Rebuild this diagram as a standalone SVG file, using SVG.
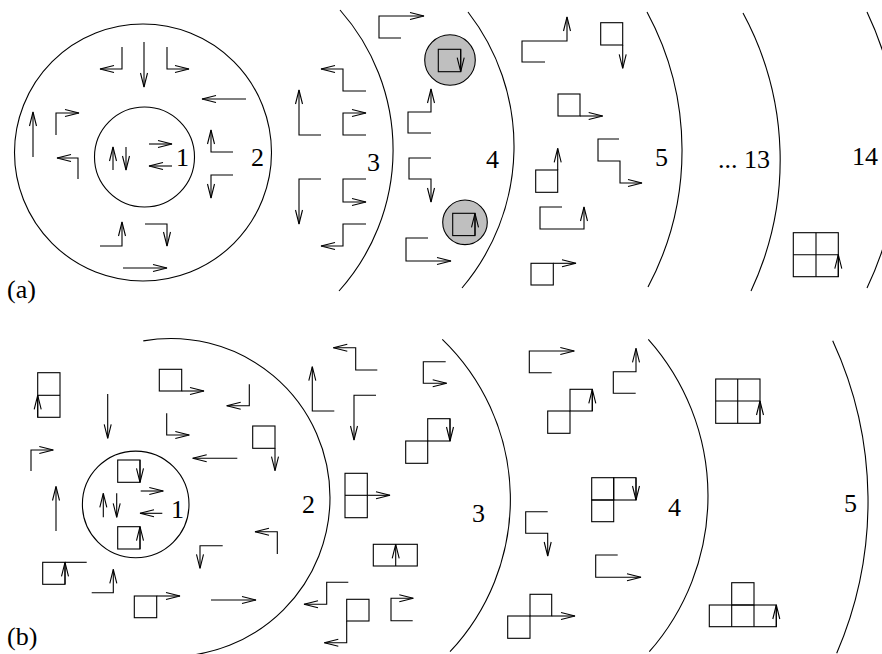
<svg xmlns="http://www.w3.org/2000/svg" width="882" height="654" viewBox="0 0 882 654">
<style>
.w{fill:none;stroke:#000;stroke-width:1.1;marker-end:url(#ah)}
.s{fill:none;stroke:#000;stroke-width:1.1}
.g{fill:#bfbfbf;stroke:#000;stroke-width:1.1}
.t{font-family:"Liberation Serif","Times New Roman",serif;font-size:26px;fill:#000}
</style>
<defs>
<marker id="ah" viewBox="-15 -5 16 10" markerWidth="16" markerHeight="10" refX="0" refY="0" orient="auto" markerUnits="userSpaceOnUse">
<path d="M-14,-3.5 L0,0 L-14,3.5" fill="none" stroke="#000" stroke-width="1.1"/>
</marker>
</defs>
<rect width="882" height="654" fill="#fff"/>

<g id="panel-a">
<g id="a-boundaries">
<circle class="s" cx="143" cy="152.5" r="128.5"/>
<circle class="s" cx="144.5" cy="157" r="50"/>
<path class="s" d="M340,10 A211,211 0 0 1 339,291"/>
<path class="s" d="M468,12 A219,219 0 0 1 462,288"/>
<path class="s" d="M647,12 A291,291 0 0 1 648,287"/>
<path class="s" d="M743,13 A309,309 0 0 1 751,291"/>
<path class="s" d="M867,12 A320,320 0 0 1 867,288"/>
</g>
<g id="a-labels">
<text class="t" x="176" y="166">1</text>
<text class="t" x="251" y="166">2</text>
<text class="t" x="367" y="171">3</text>
<text class="t" x="486" y="167.5">4</text>
<text class="t" x="655" y="166">5</text>
<text class="t" x="718" y="167.5">... 13</text>
<text class="t" x="852" y="164.5">14</text>
<text class="t" x="7" y="298">(a)</text>
</g>
<g id="a-zone1">
<polyline class="w" points="149,144 172,144"/>
<polyline class="w" points="113,170 113,147"/>
<polyline class="w" points="126,147 126,170"/>
<polyline class="w" points="172,166 149,166"/>
</g>
<g id="a-zone2">
<polyline class="w" points="122,47 122,69 100,69"/>
<polyline class="w" points="144,42 144,87"/>
<polyline class="w" points="167,47 167,69 189,69"/>
<polyline class="w" points="246,99 202,99"/>
<polyline class="w" points="56,135 56,113 79,113"/>
<polyline class="w" points="33,157 33,112"/>
<polyline class="w" points="233,152 211,152 211,130"/>
<polyline class="w" points="78,179 78,158 57,158"/>
<polyline class="w" points="233,175 211,175 211,198"/>
<polyline class="w" points="100,246 122,246 122,222"/>
<polyline class="w" points="145,224 167,224 167,246"/>
<polyline class="w" points="123,268 167,268"/>
</g>
<g id="a-zone3">
<polyline class="w" points="366,91 343,91 343,69 321,69"/>
<polyline class="w" points="321,135 299,135 299,90"/>
<polyline class="w" points="366,135 343,135 343,113 366,113"/>
<polyline class="w" points="321,179 299,179 299,224"/>
<polyline class="w" points="366,179 343,179 343,202 366,202"/>
<polyline class="w" points="366,224 343,224 343,246 321,246"/>
</g>
<g id="a-zone4">
<polyline class="w" points="401,38 379,38 379,16 424,16"/>
<circle class="g" cx="450" cy="60" r="25.3"/>
<rect class="s" x="438.3" y="49.3" width="22.4" height="22.4"/>
<polyline class="w" points="460.7,49.3 460.7,71.7"/>
<polyline class="w" points="431,133 408,133 408,112 431,112 431,89"/>
<polyline class="w" points="431,158 409,158 409,179 431,179 431,202"/>
<circle class="g" cx="465" cy="222.3" r="22.3"/>
<rect class="s" x="452.7" y="213.3" width="22.3" height="22.3"/>
<polyline class="w" points="475,235.6 475,213.3"/>
<polyline class="w" points="428,238 406,238 406,261 451,261"/>
</g>
<g id="a-zone5">
<polyline class="w" points="545,62 522,62 522,41 567,41 567,17"/>
<rect class="s" x="600.7" y="22.7" width="22" height="22.3"/>
<polyline class="w" points="622.7,45 622.7,68.3"/>
<rect class="s" x="558" y="94" width="22" height="22"/>
<polyline class="w" points="580,116 602.7,116"/>
<polyline class="w" points="619,139 598,139 598,161 620,161 620,183 642,183"/>
<rect class="s" x="535.7" y="170" width="22" height="22.3"/>
<polyline class="w" points="557.7,170 557.7,148.3"/>
<polyline class="w" points="562,207 540,207 540,229 584,229 584,207"/>
<rect class="s" x="531" y="263.3" width="22.3" height="21.7"/>
<polyline class="w" points="553.3,263.3 576,263.3"/>
</g>
<g id="a-zone14">
<rect class="s" x="793.3" y="232.7" width="45" height="44"/>
<path class="s" d="M816,232.7 V276.7 M793.3,254.7 H838.3"/>
<polyline class="w" points="838.3,276.7 838.3,254.7"/>
</g>
</g>

<g id="panel-b">
<g id="b-boundaries">
<path class="s" d="M143.3,340.9 A159,159 0 0 1 330,497.5 A159,159 0 0 1 171,656.5"/>
<circle class="s" cx="135.7" cy="504.4" r="53.3"/>
<path class="s" d="M442.3,339.3 A222.3,222.3 0 0 1 450,651.7"/>
<path class="s" d="M648.3,339.3 A235.7,235.7 0 0 1 649.3,651.7"/>
<path class="s" d="M832.7,340.7 A383.5,383.5 0 0 1 836.7,653.3"/>
</g>
<g id="b-labels">
<text class="t" x="171" y="518">1</text>
<text class="t" x="302" y="512.5">2</text>
<text class="t" x="472" y="521.5">3</text>
<text class="t" x="668" y="515.5">4</text>
<text class="t" x="844" y="511.5">5</text>
<text class="t" x="7" y="645">(b)</text>
</g>
<g id="b-zone1">
<rect class="s" x="117.7" y="460" width="22.3" height="22.3"/>
<polyline class="w" points="140,460 140,482.3"/>
<polyline class="w" points="140.7,491 163.3,491"/>
<polyline class="w" points="103.3,517.3 103.3,493.3"/>
<polyline class="w" points="116.7,493.3 116.7,517.3"/>
<polyline class="w" points="162.3,513.3 140,513.3"/>
<rect class="s" x="117.7" y="526.7" width="22.3" height="22.3"/>
<polyline class="w" points="140,549 140,526.7"/>
</g>
<g id="b-zone2">
<rect class="s" x="37.7" y="372.7" width="22.3" height="44.6"/>
<path class="s" d="M37.7,395.3 H60"/>
<polyline class="w" points="37.7,417.3 37.7,395.3"/>
<polyline class="w" points="107.7,394 107.7,438.3"/>
<rect class="s" x="159.3" y="369.3" width="22.4" height="21.7"/>
<polyline class="w" points="181.7,391 204,391"/>
<polyline class="w" points="249.3,384.3 249.3,405.7 226.7,405.7"/>
<polyline class="w" points="166.7,413.3 166.7,435 189.3,435"/>
<rect class="s" x="252.7" y="426" width="22.3" height="22.3"/>
<polyline class="w" points="275,448.3 275,470.7"/>
<polyline class="w" points="237.3,458.3 192.7,458.3"/>
<polyline class="w" points="31,471 31,450 53.3,450"/>
<polyline class="w" points="56,531 56,486.5"/>
<rect class="s" x="42.7" y="562.3" width="22.3" height="22"/>
<path class="s" d="M65,562.3 H86.7"/>
<polyline class="w" points="65,584.3 65,562.3"/>
<polyline class="w" points="91.7,592.7 113.3,592.7 113.3,569.3"/>
<rect class="s" x="134.3" y="596" width="22.4" height="21.7"/>
<polyline class="w" points="156.7,596 180,596"/>
<polyline class="w" points="211,600 256,600"/>
<polyline class="w" points="222.7,545.7 200,545.7 200,568.3"/>
<polyline class="w" points="277.3,554 277.3,531.7 255,531.7"/>
</g>
<g id="b-zone3">
<polyline class="w" points="377.3,370 355.7,370 355.7,347.7 333.3,347.7"/>
<polyline class="w" points="334.3,411 312.3,411 312.3,366.7"/>
<polyline class="w" points="445.7,361.7 423.3,361.7 423.3,383.3 446.7,383.3"/>
<polyline class="w" points="376,395.3 354,395.3 354,440"/>
<rect class="s" x="405.7" y="441" width="22" height="22.3"/>
<rect class="s" x="427.7" y="418.7" width="22.3" height="22.3"/>
<polyline class="w" points="450,418.7 450,441"/>
<rect class="s" x="345" y="473.3" width="22.3" height="44.4"/>
<path class="s" d="M345,495.3 H367.3"/>
<polyline class="w" points="367.3,495.3 390,495.3"/>
<rect class="s" x="373.3" y="544.3" width="44" height="21.7"/>
<polyline class="w" points="395.7,566 395.7,544.3"/>
<polyline class="w" points="348.3,582.3 326.7,582.3 326.7,604.3 304,604.3"/>
<rect class="s" x="346.7" y="599.3" width="22.3" height="21.7"/>
<polyline class="w" points="346.7,621 346.7,642.7 324.3,642.7"/>
<polyline class="w" points="412.7,620.7 391,620.7 391,598.3 413.3,598.3"/>
</g>
<g id="b-zone4">
<polyline class="w" points="551.7,372.7 529.3,372.7 529.3,351 574.3,351"/>
<rect class="s" x="547.7" y="411" width="22.3" height="22.3"/>
<rect class="s" x="570" y="389.3" width="22.3" height="21.7"/>
<polyline class="w" points="592.3,411 592.3,389.3"/>
<polyline class="w" points="635.7,393.3 613.3,393.3 613.3,371.7 636,371.7 636,348.3"/>
<rect class="s" x="591.7" y="477.7" width="22" height="22.3"/>
<rect class="s" x="613.7" y="477.7" width="22.3" height="22.3"/>
<rect class="s" x="591.7" y="500" width="22" height="21.7"/>
<polyline class="w" points="636,477.7 636,500"/>
<polyline class="w" points="547.7,511.7 525.7,511.7 525.7,533.3 547.7,533.3 547.7,556"/>
<polyline class="w" points="617.7,555 595.7,555 595.7,577.3 641,577.3"/>
<rect class="s" x="530" y="594.3" width="21.7" height="21.7"/>
<rect class="s" x="507.7" y="616" width="22.3" height="22.3"/>
<polyline class="w" points="551.7,616 575,616"/>
</g>
<g id="b-zone5">
<rect class="s" x="715.7" y="379" width="44.3" height="44.3"/>
<path class="s" d="M737.7,379 V423.3 M715.7,401 H760"/>
<polyline class="w" points="760,423.3 760,401"/>
<rect class="s" x="731.7" y="582.7" width="22.3" height="22.3"/>
<rect class="s" x="709.3" y="605" width="67" height="21.7"/>
<path class="s" d="M731.7,605 V626.7 M754,605 V626.7"/>
<polyline class="w" points="776.3,626.7 776.3,605"/>
</g>
</g>
</svg>
